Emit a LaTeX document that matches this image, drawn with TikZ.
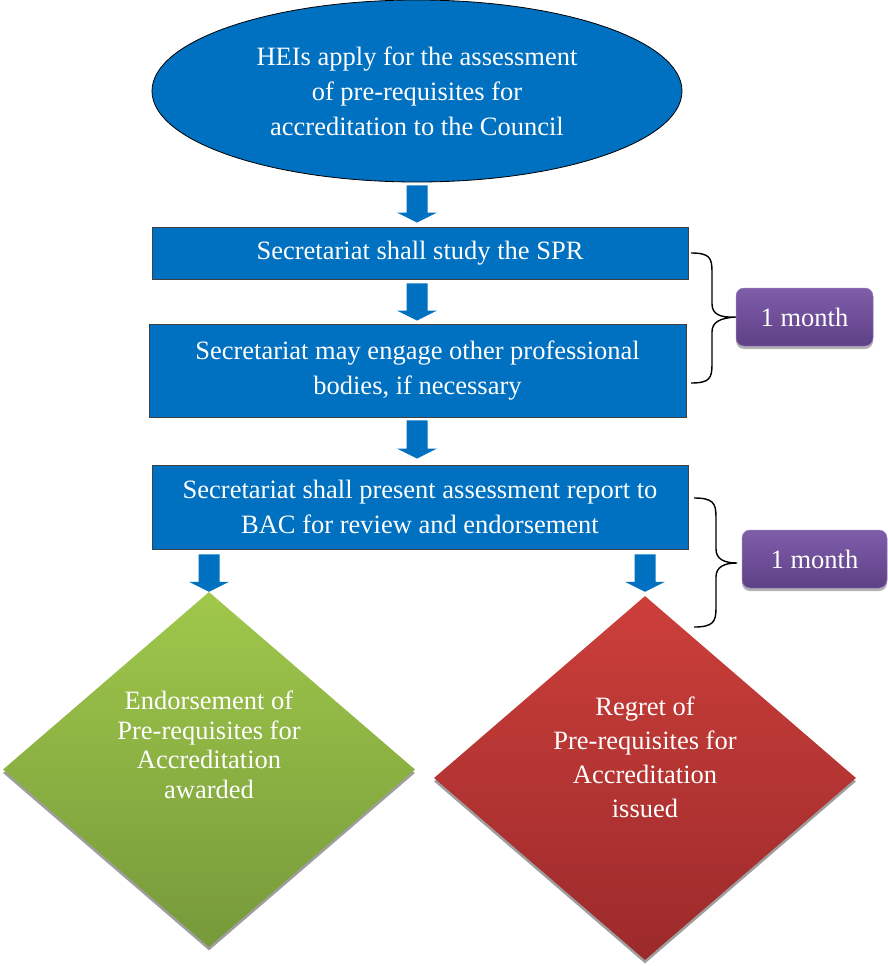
\documentclass[tikz,border=0pt]{standalone}
\usepackage{fontspec}
\setmainfont{Liberation Serif}
\usetikzlibrary{shapes.geometric,calc,shadows}
\definecolor{hblue}{HTML}{0070C0}
\definecolor{gtop}{HTML}{A0C84B}
\definecolor{gbot}{HTML}{76993A}
\definecolor{rtop}{HTML}{CC3F3A}
\definecolor{rbot}{HTML}{9C2A2B}
\definecolor{ptop}{HTML}{7F5DAA}
\definecolor{pbot}{HTML}{5E4186}
\newcommand\blockarrow[2]{%
  \fill[hblue] let \p1=#1, \p2=#2 in
    (\x1-10.5pt,\y1) -- (\x1+10.5pt,\y1) -- (\x1+10.5pt,\y2+10pt) -- (\x1+20pt,\y2+10pt)
    -- (\x1,\y2) -- (\x1-20pt,\y2+10pt) -- (\x1-10.5pt,\y2+10pt) -- cycle;}
\begin{document}
\begin{tikzpicture}[x=1pt,y=-1pt,
  txt/.style={text=white, font=\fontsize{26.5}{35}\selectfont, align=center},
  procbox/.style={draw=black!75, line width=0.8pt, fill=hblue, inner sep=0pt, txt},
  decision/.style={diamond, inner sep=0pt, draw=none,
    general shadow={shadow xshift=0pt, shadow yshift=-3.5pt, fill=black!38}},
  monthbox/.style={rounded corners=8pt, inner sep=0pt, top color=ptop, bottom color=pbot,
    draw=ptop!80!white, line width=0.5pt,
    general shadow={shadow xshift=0pt, shadow yshift=-3pt, fill=black!30}, txt},
  bracepath/.style={draw=black, line width=1.4pt}]
\useasboundingbox (0,0) rectangle (887,966);

% start ellipse
\node[ellipse, draw=black, line width=0.8pt, fill=hblue, inner sep=0pt,
      minimum width=530pt, minimum height=182pt, txt] (ell) at (417,91)
  {HEIs apply for the assessment\\of pre-requisites for\\accreditation to the Council};

% process boxes
\node[procbox, minimum width=536pt, minimum height=52pt] (b1) at (420,253)
  {Secretariat shall study the SPR};
\node[procbox, minimum width=537pt, minimum height=93pt] (b2) at (417.5,370.5)
  {Secretariat may engage other professional\\bodies, if necessary};
\node[procbox, minimum width=536pt, minimum height=84pt] (b3) at (420,507)
  {Secretariat shall present assessment report to\\BAC for review and endorsement};

% decisions
\node[decision, minimum width=412pt, minimum height=355pt, top color=gtop, bottom color=gbot] (gd) at (209,769.5) {};
\node[txt, font=\fontsize{26.5}{29.5}\selectfont] (gdt) at (209,745) {Endorsement of\\Pre-requisites for\\Accreditation\\awarded};
\node[decision, minimum width=422pt, minimum height=364pt, top color=rtop, bottom color=rbot] (rd) at (645,778) {};
\node[txt, font=\fontsize{26.5}{34}\selectfont] (rdt) at (645,757) {Regret of\\Pre-requisites for\\Accreditation\\issued};

% month labels
\node[monthbox, minimum width=137pt, minimum height=58pt] (m1) at (804.5,317) {1 month};
\node[monthbox, minimum width=145pt, minimum height=58pt] (m2) at (814.5,559) {1 month};

% block arrows
\blockarrow{([yshift=-3pt]ell.south)}{([yshift=4pt]b1.north -| ell.south)}
\blockarrow{([yshift=-4pt]b1.south -| ell.south)}{([yshift=3pt]b2.north -| ell.south)}
\blockarrow{([yshift=-3pt]b2.south -| ell.south)}{([yshift=6pt]b3.north -| ell.south)}
\blockarrow{([yshift=-5pt]b3.south -| gd.north)}{(gd.north)}
\blockarrow{([yshift=-5pt]b3.south -| rd.north)}{([yshift=4pt]rd.north)}

% braces
\coordinate (br1t) at (691,253);
\coordinate (br1b) at (691,383);
\draw[bracepath] (br1t) .. controls (710,253) and (712,258) .. (712,272) -- (712,304)
  .. controls (712,314) and (720,318) .. (m1.west)
  .. controls (720,318) and (712,322) .. (712,332) -- (712,364)
  .. controls (712,378) and (710,383) .. (br1b);
\coordinate (br2t) at (694,498);
\coordinate (br2b) at (694,627);
\draw[bracepath] (br2t) .. controls (713,498) and (716,503) .. (716,517) -- (716,549)
  .. controls (716,559) and (724,563) .. (737,563)
  .. controls (724,563) and (716,567) .. (716,577) -- (716,608)
  .. controls (716,622) and (713,627) .. (br2b);
\end{tikzpicture}
\end{document}
